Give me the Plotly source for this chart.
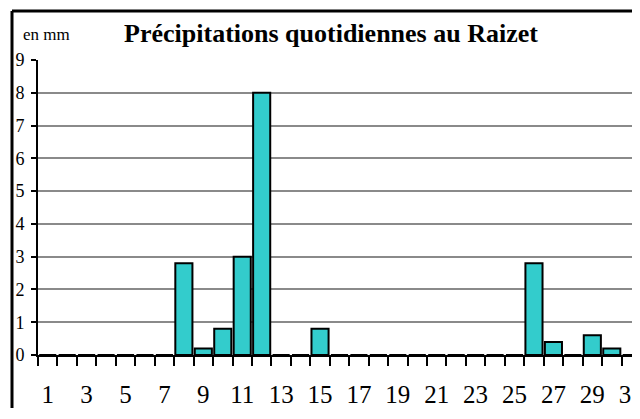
import plotly.graph_objects as go

days = list(range(1, 32))
rain_mm = [0, 0, 0, 0, 0, 0, 0, 2.8, 0.2, 0.8, 3.0, 8.0, 0, 0, 0.8, 0,
           0, 0, 0, 0, 0, 0, 0, 0, 0, 2.8, 0.4, 0, 0.6, 0.2, 0]
label_days = [d for d in days if d % 2 == 1]
label_text = [str(d) for d in label_days]
y_ticks = list(range(0, 10))

title_text = "<b>Précipitations quotidiennes au Raizet</b>"
unit_text = "en mm"

# the page body adds an 8px offset; lay the figure out in screen coordinates minus 8
OFF = 8
W, H = 640 - OFF, 400
L = 38 - OFF
T = 60 - OFF
B = H - (355 - OFF)
R = 0
pw, ph = W - L - R, H - T - B
cat_w = 19.45

def px_x(x):
    return (x - OFF - L) / pw

def px_y(y):
    return (H - B - (y - OFF)) / ph

fig = go.Figure(go.Bar(
    x=days, y=rain_mm,
    marker=dict(color="#33CCCC", line=dict(color="black", width=2)),
))

serif = "Liberation Serif, serif"
frame = dict(color="black", width=3)

fig.update_layout(
    width=W, height=H,
    margin=dict(l=L, r=R, t=T, b=B, autoexpand=False),
    paper_bgcolor="white", plot_bgcolor="white",
    bargap=0.12,
    showlegend=False,
    font=dict(family=serif, color="black"),
    title=dict(text=title_text, font=dict(family=serif, size=26, color="black"),
               xref="paper", x=px_x(331), xanchor="center",
               yref="container", y=1 - (33 - OFF) / H, yanchor="middle"),
    xaxis=dict(
        range=[0.5, 0.5 + pw / cat_w],
        tickmode="array", tickvals=label_days, ticktext=label_text,
        ticks="", showgrid=False, zeroline=False,
        showline=True, linecolor="black", linewidth=2,
        tickfont=dict(family=serif, size=25, color="black"),
        ticklabelstandoff=16,
        ticklabeloverflow="allow",
        automargin=False,
        minor=dict(tickmode="linear", tick0=0.5, dtick=1, ticks="outside",
                   ticklen=9, tickwidth=2, tickcolor="black", showgrid=False),
    ),
    yaxis=dict(
        range=[0, 9], tickmode="array", tickvals=y_ticks,
        showgrid=True, gridcolor="#8a8a8a", gridwidth=2,
        zeroline=False,
        showline=True, linecolor="black", linewidth=2,
        ticks="outside", ticklen=5, tickwidth=2, tickcolor="black",
        tickfont=dict(family=serif, size=18, color="black"),
        ticklabelstandoff=3,
        automargin=False,
    ),
    annotations=[dict(text=unit_text, xref="paper", yref="paper",
                      x=px_x(21), y=px_y(34), xanchor="left", yanchor="middle",
                      showarrow=False, font=dict(family=serif, size=17, color="black"))],
    shapes=[
        dict(type="line", xref="paper", yref="paper",
             x0=px_x(12), x1=px_x(12), y0=px_y(430), y1=px_y(11), line=frame),
        dict(type="line", xref="paper", yref="paper",
             x0=px_x(12), x1=px_x(660), y0=px_y(11), y1=px_y(11), line=frame),
    ],
)

fig.write_html("out.html")
